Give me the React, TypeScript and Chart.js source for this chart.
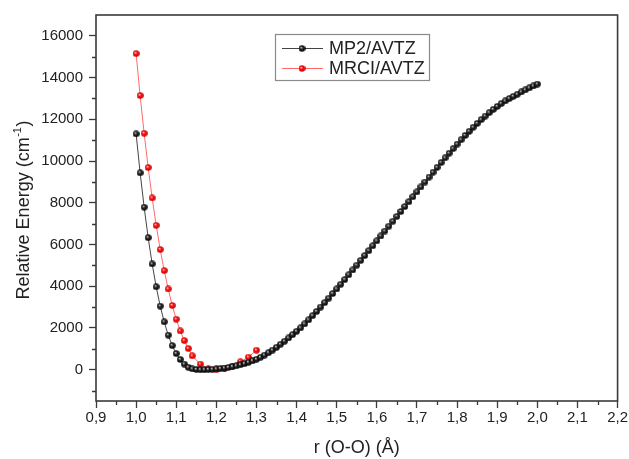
import React, { useEffect, useRef } from "react";
import { Chart, registerables } from "chart.js";

Chart.register(...registerables);

// ---------------- Data ----------------
const MP2_R = [
  1.0, 1.01, 1.02, 1.03, 1.04, 1.05, 1.06, 1.07, 1.08, 1.09,
  1.1, 1.11, 1.12, 1.13, 1.14, 1.15, 1.16, 1.17, 1.18, 1.19,
  1.2, 1.21, 1.22, 1.23, 1.24, 1.25, 1.26, 1.27, 1.28, 1.29,
  1.3, 1.31, 1.32, 1.33, 1.34, 1.35, 1.36, 1.37, 1.38, 1.39,
  1.4, 1.41, 1.42, 1.43, 1.44, 1.45, 1.46, 1.47, 1.48, 1.49,
  1.5, 1.51, 1.52, 1.53, 1.54, 1.55, 1.56, 1.57, 1.58, 1.59,
  1.6, 1.61, 1.62, 1.63, 1.64, 1.65, 1.66, 1.67, 1.68, 1.69,
  1.7, 1.71, 1.72, 1.73, 1.74, 1.75, 1.76, 1.77, 1.78, 1.79,
  1.8, 1.81, 1.82, 1.83, 1.84, 1.85, 1.86, 1.87, 1.88, 1.89,
  1.9, 1.91, 1.92, 1.93, 1.94, 1.95, 1.96, 1.97, 1.98, 1.99,
  2.0,
];
const MP2_E = [
  11300, 9435, 7790, 6330, 5070, 3975, 3050, 2295, 1660, 1155,
  775, 490, 270, 115, 40, 10, 0, 0, 8, 20,
  35, 55, 80, 110, 145, 185, 235, 290, 355, 425,
  500, 595, 700, 815, 940, 1075, 1220, 1365, 1520, 1680,
  1840, 2005, 2195, 2390, 2590, 2795, 3005, 3215, 3430, 3650,
  3870, 4095, 4320, 4550, 4780, 5010, 5240, 5470, 5705, 5940,
  6175, 6410, 6645, 6880, 7115, 7350, 7585, 7820, 8055, 8290,
  8525, 8760, 8995, 9230, 9465, 9695, 9925, 10150, 10375, 10595,
  10810, 11020, 11225, 11425, 11620, 11805, 11985, 12155, 12320, 12475,
  12620, 12755, 12880, 12995, 13100, 13200, 13310, 13410, 13505, 13600,
  13690,
];

const MRCI_R = [
  1.0, 1.01, 1.02, 1.03, 1.04, 1.05, 1.06, 1.07, 1.08, 1.09,
  1.1, 1.11, 1.12, 1.13, 1.14, 1.16, 1.18, 1.2, 1.22, 1.24,
  1.26, 1.28, 1.3,
];
const MRCI_E = [
  15150, 13140, 11330, 9690, 8230, 6920, 5760, 4750, 3870, 3080,
  2420, 1860, 1395, 1015, 665, 270, 35, 0, 60, 175,
  380, 600, 935,
];

const SERIES_LABELS = ["MP2/AVTZ", "MRCI/AVTZ"];

const X_TICKS = [0.9, 1.0, 1.1, 1.2, 1.3, 1.4, 1.5, 1.6, 1.7, 1.8, 1.9, 2.0, 2.1, 2.2];
const X_TICK_LABELS = ["0,9", "1,0", "1,1", "1,2", "1,3", "1,4", "1,5", "1,6", "1,7", "1,8", "1,9", "2,0", "2,1", "2,2"];
const X_MINOR = [0.95, 1.05, 1.15, 1.25, 1.35, 1.45, 1.55, 1.65, 1.75, 1.85, 1.95, 2.05, 2.15];

const Y_TICKS = [0, 2000, 4000, 6000, 8000, 10000, 12000, 14000, 16000];
const Y_TICK_LABELS = ["0", "2000", "4000", "6000", "8000", "10000", "12000", "14000", "16000"];
const Y_MINOR = [-1000, 1000, 3000, 5000, 7000, 9000, 11000, 13000, 15000];

const X_TITLE = "r (O-O) (Å)";
const Y_TITLE_MAIN = "Relative Energy (cm";
const Y_TITLE_SUP = "-1";
const Y_TITLE_END = ")";

const FONT = "'Liberation Sans', Arial, Helvetica, sans-serif";
const AXIS_COLOR = "#3a3a3a";
const TEXT_COLOR = "#222222";

function makeBall(d: number, light: string, mid: string, dark: string): HTMLCanvasElement {
  const c = document.createElement("canvas");
  c.width = d;
  c.height = d;
  const g = c.getContext("2d")!;
  const r = d / 2;
  const grad = g.createRadialGradient(r * 0.75, r * 0.7, 0.2, r, r, r);
  grad.addColorStop(0, light);
  grad.addColorStop(0.4, mid);
  grad.addColorStop(1, dark);
  g.fillStyle = grad;
  g.beginPath();
  g.arc(r, r, r - 0.2, 0, Math.PI * 2);
  g.fill();
  return c;
}

export default function App() {
  const ref = useRef<HTMLCanvasElement | null>(null);

  useEffect(() => {
    if (!ref.current) return;
    const blackBall = makeBall(7, "#c8c8c8", "#262626", "#000000");
    const redBall = makeBall(7, "#ffd0d0", "#ff1010", "#c00000");

    const framePlugin = {
      id: "frameAndExtras",
      afterDraw(chart: any) {
        const ctx = chart.ctx as CanvasRenderingContext2D;
        const a = chart.chartArea;
        const xs = chart.scales.x;
        const ys = chart.scales.y;
        ctx.save();
        // frame
        ctx.strokeStyle = AXIS_COLOR;
        ctx.lineWidth = 1.6;
        ctx.strokeRect(a.left, a.top, a.right - a.left, a.bottom - a.top);
        // minor ticks
        ctx.lineWidth = 1.3;
        ctx.beginPath();
        for (const v of X_MINOR) {
          const px = Math.round(xs.getPixelForValue(v)) + 0.5;
          ctx.moveTo(px, a.bottom);
          ctx.lineTo(px, a.bottom + 4);
        }
        for (const v of Y_MINOR) {
          const py = Math.round(ys.getPixelForValue(v)) + 0.5;
          ctx.moveTo(a.left, py);
          ctx.lineTo(a.left - 4, py);
        }
        ctx.stroke();

        // axis titles
        ctx.fillStyle = TEXT_COLOR;
        ctx.font = `18px ${FONT}`;
        ctx.textAlign = "center";
        ctx.textBaseline = "middle";
        ctx.fillText(X_TITLE, (a.left + a.right) / 2, 448);

        ctx.save();
        ctx.translate(22, (a.top + a.bottom) / 2 + 2);
        ctx.rotate(-Math.PI / 2);
        ctx.textAlign = "left";
        ctx.textBaseline = "alphabetic";
        ctx.font = `18px ${FONT}`;
        const w1 = ctx.measureText(Y_TITLE_MAIN).width;
        const w3 = ctx.measureText(Y_TITLE_END).width;
        ctx.font = `11px ${FONT}`;
        const w2 = ctx.measureText(Y_TITLE_SUP).width;
        const total = w1 + w2 + w3 + 1;
        let x0 = -total / 2;
        ctx.font = `18px ${FONT}`;
        ctx.fillText(Y_TITLE_MAIN, x0, 6.5);
        x0 += w1 + 0.5;
        ctx.font = `11px ${FONT}`;
        ctx.fillText(Y_TITLE_SUP, x0, -1);
        x0 += w2 + 0.5;
        ctx.font = `18px ${FONT}`;
        ctx.fillText(Y_TITLE_END, x0, 6.5);
        ctx.restore();

        // legend
        const bx = 275.5, by = 34.5, bw = 154, bh = 46;
        ctx.fillStyle = "#ffffff";
        ctx.fillRect(bx, by, bw, bh);
        ctx.strokeStyle = "#8a8a8a";
        ctx.lineWidth = 1.2;
        ctx.strokeRect(bx, by, bw, bh);
        const rows = [48, 68];
        chart.data.datasets.forEach((ds: any, i: number) => {
          const y = rows[i];
          ctx.strokeStyle = ds.borderColor;
          ctx.lineWidth = 1;
          ctx.beginPath();
          ctx.moveTo(282, y + 0.5);
          ctx.lineTo(323, y + 0.5);
          ctx.stroke();
          const img = ds.pointStyle as HTMLCanvasElement;
          ctx.drawImage(img, 302 - img.width / 2, y + 0.5 - img.height / 2);
          ctx.fillStyle = TEXT_COLOR;
          ctx.font = `18px ${FONT}`;
          ctx.textAlign = "left";
          ctx.textBaseline = "middle";
          ctx.fillText(ds.label, 329, y + 1);
        });
        ctx.restore();
      },
    };

    const chart = new Chart(ref.current, {
      type: "line",
      data: {
        datasets: [
          {
            label: SERIES_LABELS[0],
            data: MP2_R.map((r, i) => ({ x: r, y: MP2_E[i] })),
            borderColor: "#444444",
            borderWidth: 1,
            pointStyle: blackBall as any,
            pointRadius: 3.5,
            pointHoverRadius: 3.5,
            tension: 0,
            fill: false,
          },
          {
            label: SERIES_LABELS[1],
            data: MRCI_R.map((r, i) => ({ x: r, y: MRCI_E[i] })),
            borderColor: "#ff6a6a",
            borderWidth: 1,
            pointStyle: redBall as any,
            pointRadius: 3.5,
            pointHoverRadius: 3.5,
            tension: 0,
            fill: false,
          },
        ],
      },
      options: {
        responsive: false,
        animation: false,
        events: [],
        layout: { padding: { top: 11, right: 11, left: 0, bottom: 0 } },
        plugins: {
          legend: { display: false },
          tooltip: { enabled: false },
          title: { display: false },
        },
        scales: {
          x: {
            type: "linear",
            min: 0.9,
            max: 2.2,
            afterBuildTicks: (s: any) => {
              s.ticks = X_TICKS.map((v) => ({ value: v }));
            },
            afterFit: (s: any) => {
              s.height = 58;
            },
            grid: {
              drawOnChartArea: false,
              drawTicks: true,
              tickLength: 7,
              tickColor: AXIS_COLOR,
              tickWidth: 1.3,
            },
            border: { display: false },
            ticks: {
              autoSkip: false,
              maxRotation: 0,
              padding: 1,
              color: TEXT_COLOR,
              font: { family: FONT, size: 15 },
              callback: (_v: any, i: number) => X_TICK_LABELS[i],
            },
          },
          y: {
            type: "linear",
            min: -1500,
            max: 17000,
            afterBuildTicks: (s: any) => {
              s.ticks = Y_TICKS.map((v) => ({ value: v }));
            },
            afterFit: (s: any) => {
              s.width = 96;
            },
            grid: {
              drawOnChartArea: false,
              drawTicks: true,
              tickLength: 7,
              tickColor: AXIS_COLOR,
              tickWidth: 1.3,
            },
            border: { display: false },
            ticks: {
              autoSkip: false,
              padding: 6,
              color: TEXT_COLOR,
              font: { family: FONT, size: 15 },
              callback: (_v: any, i: number) => Y_TICK_LABELS[i],
            },
          },
        },
      },
      plugins: [framePlugin],
    });

    return () => chart.destroy();
  }, []);

  return (
    <div style={{ position: "absolute", left: 0, top: 0, width: 629, height: 459, background: "#fff" }}>
      <canvas ref={ref} width={629} height={459} style={{ display: "block", width: 629, height: 459 }} />
    </div>
  );
}
